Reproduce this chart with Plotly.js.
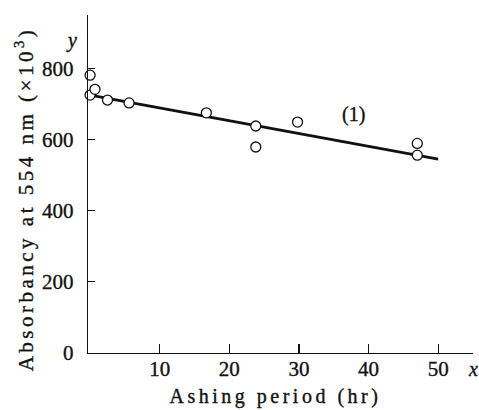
<!DOCTYPE html>
<html>
<head>
<meta charset="utf-8">
<script src="https://cdn.plot.ly/plotly-3.0.1.min.js"></script>
<style>
  html, body { margin: 0; padding: 0; background: #fff; }
  #chart { width: 479px; height: 410px; }
  #chart svg text { stroke: #111; stroke-width: 0.35px; }
  g.annotation[data-index="0"] text, g.annotation[data-index="1"] text { letter-spacing: 3.5px; }
</style>
</head>
<body>
<div id="chart"></div>
<script>
// Data
const ptsX = [0, 0, 0.7, 2.5, 5.6, 16.7, 23.8, 23.8, 29.8, 47, 47];
const ptsY = [781, 725, 741, 711, 703, 675, 638, 579, 649, 589, 556];
const fitX = [0, 50];
const fitY = [725, 545];
const xTicks = [10, 20, 30, 40, 50];
const yTicks = [0, 200, 400, 600, 800];
const curveLabel = "(1)";
const curveLabelX = 37.9, curveLabelY = 669;

const font = "'Liberation Serif', 'Times New Roman', serif";
const ink = "#111";

const traces = [
  {
    x: fitX, y: fitY, type: "scatter", mode: "lines",
    line: { color: ink, width: 2.7 }, hoverinfo: "skip", showlegend: false
  },
  {
    x: ptsX, y: ptsY, type: "scatter", mode: "markers",
    marker: { symbol: "circle", size: 10, color: "#fff", line: { color: ink, width: 1.3 } },
    cliponaxis: false, showlegend: false
  }
];

const layout = {
  width: 479, height: 410,
  margin: { l: 88, r: 6, t: 15, b: 57 },
  paper_bgcolor: "#fff", plot_bgcolor: "#fff",
  font: { family: font, size: 20, color: ink },
  showlegend: false,
  xaxis: {
    range: [-0.3, 55], showgrid: false, zeroline: false,
    showline: true, linecolor: ink, linewidth: 1.4,
    tickmode: "array", tickvals: xTicks, ticktext: xTicks.map(String),
    ticks: "inside", ticklen: 9, tickwidth: 1.2, tickcolor: ink,
    ticklabelstandoff: -4,
    tickfont: { family: font, size: 21, color: ink }
  },
  yaxis: {
    range: [0, 950], showgrid: false, zeroline: false,
    showline: true, linecolor: ink, linewidth: 1.4,
    tickmode: "array", tickvals: yTicks, ticktext: yTicks.map(String),
    ticks: "inside", ticklen: 7, tickwidth: 1.2, tickcolor: ink,
    ticklabelstandoff: 9,
    tickfont: { family: font, size: 21, color: ink }
  },
  annotations: [
    {
      text: "Absorbancy at 554 nm (×10<sup>3</sup>)", textangle: -90,
      xref: "paper", yref: "paper", x: -0.163, y: 0.456,
      xanchor: "center", yanchor: "middle", showarrow: false,
      font: { family: font, size: 21, color: ink }
    },
    {
      text: "Ashing period (hr)",
      xref: "paper", yref: "paper", x: 0.488, y: -0.130,
      xanchor: "center", yanchor: "middle", showarrow: false,
      font: { family: font, size: 20, color: ink }
    },
    {
      text: curveLabel, xref: "x", yref: "y", x: curveLabelX, y: curveLabelY,
      xanchor: "center", yanchor: "middle", showarrow: false,
      font: { family: font, size: 20, color: ink }
    },
    {
      text: "<i>y</i>", xref: "paper", yref: "paper", x: -0.0416, y: 0.926,
      xanchor: "center", yanchor: "middle", showarrow: false,
      font: { family: font, size: 20, color: ink }
    },
    {
      text: "<i>x</i>", xref: "paper", yref: "paper", x: 1.0, y: -0.047,
      xanchor: "center", yanchor: "middle", showarrow: false,
      font: { family: font, size: 20, color: ink }
    }
  ]
};

Plotly.newPlot("chart", traces, layout, { staticPlot: true, displayModeBar: false });
</script>
</body>
</html>
